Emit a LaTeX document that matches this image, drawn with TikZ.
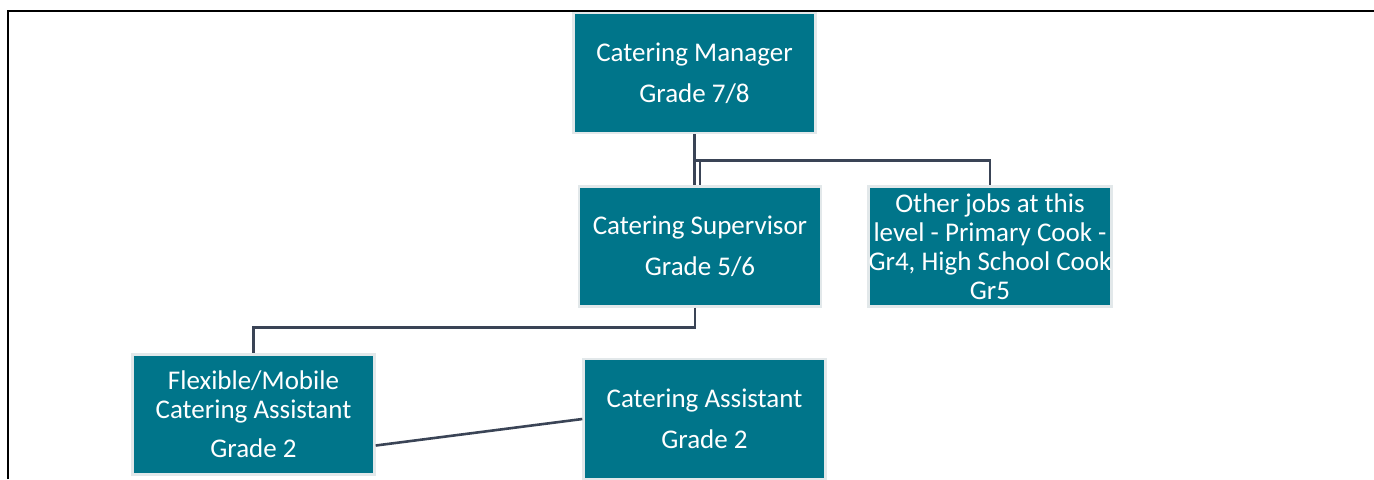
\documentclass[tikz,border=0pt]{standalone}
\usepackage{fontspec}
\setmainfont{Carlito}
\usetikzlibrary{calc}
\definecolor{jobteal}{HTML}{00758A}
\definecolor{jobedge}{HTML}{E2E8EA}
\definecolor{linkgrey}{HTML}{3A4456}
\tikzset{
  jobbox/.style={draw=jobedge, line width=1.2pt, fill=jobteal, text=white,
    minimum width=121pt, minimum height=60pt, inner sep=0pt, align=center,
    font=\fontsize{13.5}{14.5}\selectfont},
  link/.style={draw=linkgrey, line width=1.3pt}
}
\begin{document}
\begin{tikzpicture}[x=0.5pt,y=-0.5pt]
  \useasboundingbox (0,0) rectangle (1374,479);
  \draw[line width=1.2pt] (8,479) -- (8,11) -- (1374,11);
  % boxes
  \node[jobbox] (mgr) at (694.5,73) {Catering Manager\\[6pt]Grade 7/8};
  \node[jobbox] (sup) at (700,246.5) {Catering Supervisor\\[6pt]Grade 5/6};
  \node[jobbox] (oth) at (990,246.5) {Other jobs at this\\level - Primary Cook -\\Gr4, High School Cook\\Gr5};
  \node[jobbox] (flex) at (253.5,414.5) {Flexible/Mobile\\Catering Assistant\\[5pt]Grade 2};
  \node[jobbox] (asst) at (704.5,419) {Catering Assistant\\[6pt]Grade 2};
  % connectors
  \coordinate (mj) at ($(mgr.south)+(0,26)$);
  \draw[link] (mgr.south) -- (mgr.south |- sup.north);
  \draw[link] (mj) -| (sup.north);
  \draw[link] (mj) -| (oth.north);
  \draw[link] ([xshift=-2.5pt]sup.south) -- ++(0,20) -| (flex.north);
  \draw[link] ([yshift=-15.5pt]flex.east) -- (asst.west);
\end{tikzpicture}
\end{document}
